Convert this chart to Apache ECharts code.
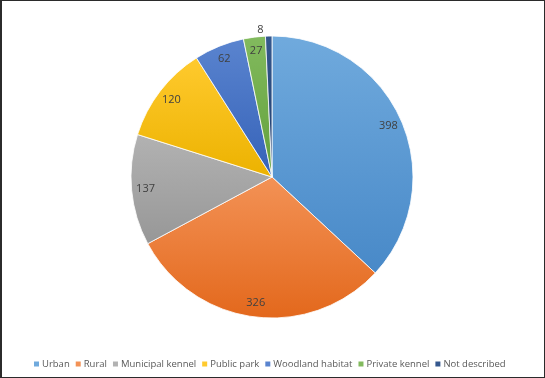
<!DOCTYPE html>
<html>
<head>
<meta charset="utf-8">
<script src="https://cdn.jsdelivr.net/npm/echarts@6/dist/echarts.min.js"></script>
<style>
html, body { margin: 0; padding: 0; background: #fff; }
.frame {
    width: 545px;
    height: 378px;
    box-sizing: border-box;
    border: 1px solid #2b2b2b;
    border-left-width: 2px;
}
.charts { width: 100%; height: 100%; }
</style>
</head>
<body>
<div class="frame"><div class="charts" id="main"></div></div>
<script>
// 数据
const categories = ['Urban', 'Rural', 'Municipal kennel', 'Public park', 'Woodland habitat', 'Private kennel', 'Not described']
const counts = [398, 326, 137, 120, 62, 27, 8]
// 渐变色 上浅下深
const topColors = ['#70AADD', '#F39256', '#B2B2B2', '#FFCA2E', '#5A84CF', '#82BA5E', '#35588E']
const bottomColors = ['#4889C8', '#E3681C', '#979797', '#ECB200', '#3562B8', '#62A03A', '#1E3B6A']

function grad(i){
    return new echarts.graphic.LinearGradient(0, 0, 0, 1, [
        { offset: 0, color: topColors[i] },
        { offset: 1, color: bottomColors[i] }
    ])
}

const pieData = categories.map((name, i) => ({
    name: name,
    value: counts[i],
    itemStyle: { color: grad(i) },
    // 只有最小的一块把数值放到外面
    label: { show: i === categories.length - 1 }
}))

const labelData = categories.map((name, i) => ({
    name: name,
    value: counts[i],
    label: { show: i !== categories.length - 1 }
}))

const myChart = echarts.init(document.getElementById('main'))
const option = {
    animation: false,
    legend: {
        bottom: 3,
        left: 25,
        icon: 'rect',
        itemWidth: 7,
        itemHeight: 7,
        itemGap: 4,
        textStyle: {
            color: '#595959',
            fontSize: 9.5,
            fontFamily: 'Open Sans',
            padding: [0, 0, 0, -3]
        },
        data: categories.map((name, i) => ({ name: name, itemStyle: { color: topColors[i] } }))
    },
    series: [
        {
            name: 'main',
            type: 'pie',
            center: [270, 176],
            radius: [0, 141],
            startAngle: 90,
            clockwise: true,
            avoidLabelOverlap: false,
            itemStyle: {
                borderColor: '#fff',
                borderWidth: 0.8
            },
            label: {
                position: 'outside',
                color: '#404040',
                fontSize: 11,
                fontFamily: 'Open Sans',
                formatter: '{c}'
            },
            labelLine: { show: false, length: 6, length2: 0 },
            emphasis: { disabled: true },
            data: pieData
        },
        {
            name: 'labels',
            type: 'pie',
            silent: true,
            center: [270, 176],
            radius: [106, 142],
            startAngle: 90,
            clockwise: true,
            avoidLabelOverlap: false,
            legendHoverLink: false,
            itemStyle: { color: 'transparent', borderWidth: 0 },
            label: {
                position: 'inside',
                color: '#404040',
                fontSize: 11,
                fontFamily: 'Open Sans',
                formatter: '{c}'
            },
            labelLine: { show: false },
            emphasis: { disabled: true },
            data: labelData
        }
    ]
}
myChart.setOption(option)
</script>
</body>
</html>
